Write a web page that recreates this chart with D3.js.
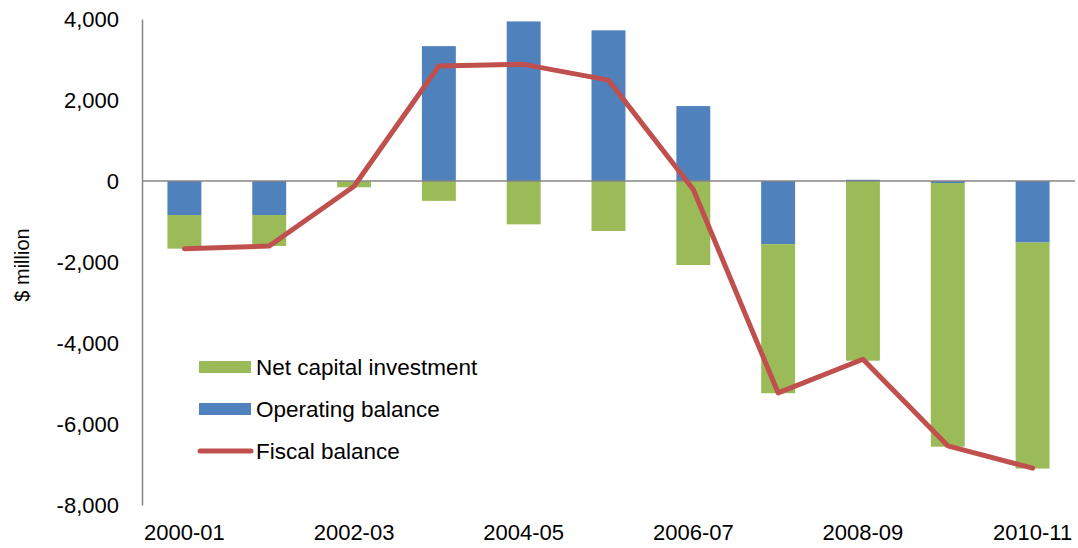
<!DOCTYPE html>
<html>
<head>
<meta charset="utf-8">
<script src="https://cdn.jsdelivr.net/npm/d3@7"></script>
<style>
  body { margin: 0; background: #fff; }
  svg text { font-family: "Liberation Sans", Arial, sans-serif; fill: #000; }
</style>
</head>
<body>
<svg id="chart" width="1078" height="548"></svg>
<script>
// chart data, $ million
var categories = ["2000-01","2001-02","2002-03","2003-04","2004-05","2005-06","2006-07","2007-08","2008-09","2009-10","2010-11"];
var operatingBalance = [-840, -840, -10, 3330, 3940, 3720, 1850, -1560, 30, -50, -1520];
var netCapital       = [-830, -765, -145, -490, -1070, -1235, -2074, -3680, -4437, -6510, -5580];
var fiscalBalance    = [-1670, -1605, -130, 2840, 2880, 2490, -210, -5230, -4400, -6540, -7090];
var yTicks  = [-8000, -6000, -4000, -2000, 0, 2000, 4000];
var xLabels = ["2000-01","2002-03","2004-05","2006-07","2008-09","2010-11"];

var colours = { op: "#4F81BD", cap: "#9BBB59", fiscal: "#C0504D", axis: "#868686" };

var svg = d3.select("#chart");
var plotLeft = 142, plotRight = 1075, plotTop = 19, plotBottom = 505;

var x = d3.scaleBand().domain(categories).range([plotLeft, plotRight]).paddingInner(0.6).paddingOuter(0.3);
var y = d3.scaleLinear().domain([-8000, 4000]).range([plotBottom, plotTop]);

// stacked bars: operating balance first, net capital investment on top of it
var rows = categories.map(function (c, i) { return { cat: c, op: operatingBalance[i], cap: netCapital[i] }; });
var stack = d3.stack().keys(["op", "cap"]).offset(d3.stackOffsetDiverging);
var layers = stack(rows);

svg.append("g").selectAll("g")
    .data(layers)
  .enter().append("g")
    .attr("fill", function (d) { return colours[d.key]; })
  .selectAll("rect")
    .data(function (d) { return d; })
  .enter().append("rect")
    .attr("x", function (d) { return x(d.data.cat); })
    .attr("width", x.bandwidth())
    .attr("y", function (d) { return y(Math.max(d[0], d[1])); })
    .attr("height", function (d) { return Math.abs(y(d[0]) - y(d[1])); });

// zero line
svg.append("line")
    .attr("x1", plotLeft).attr("x2", plotRight)
    .attr("y1", y(0)).attr("y2", y(0))
    .attr("stroke", colours.axis).attr("stroke-width", 1.5);

// y axis, plain hyphen for negatives like the original
var fmt = d3.format(",");
var yAxis = svg.append("g")
    .attr("transform", "translate(" + plotLeft + ",0)")
    .call(d3.axisLeft(y).tickValues(yTicks)
      .tickFormat(function (d) { return fmt(d).replace("\u2212", "-"); })
      .tickSize(0).tickPadding(23));
yAxis.select(".domain").attr("stroke", colours.axis).attr("stroke-width", 1.5);
yAxis.selectAll("text").attr("font-size", "22px").style("font-family", "'Liberation Sans', Arial, sans-serif").attr("fill", "#000");

// x axis labels (every second year)
var xAxis = svg.append("g")
    .attr("transform", "translate(0," + plotBottom + ")")
    .call(d3.axisBottom(x).tickValues(xLabels).tickSize(0).tickPadding(19));
xAxis.select(".domain").remove();
xAxis.selectAll("text").attr("font-size", "22px").style("font-family", "'Liberation Sans', Arial, sans-serif").attr("fill", "#000");

// fiscal balance line
var line = d3.line()
    .x(function (d, i) { return x(categories[i]) + x.bandwidth() / 2; })
    .y(function (d) { return y(d); });

svg.append("path")
    .datum(fiscalBalance)
    .attr("d", line)
    .attr("fill", "none")
    .attr("stroke", colours.fiscal)
    .attr("stroke-width", 5)
    .attr("stroke-linejoin", "round")
    .attr("stroke-linecap", "round");

// y axis title
svg.append("text")
    .attr("transform", "translate(29,265) rotate(-90)")
    .attr("text-anchor", "middle")
    .attr("font-size", "20px")
    .text("$ million");

// legend
var legendItems = [
  { label: "Net capital investment", type: "rect", colour: colours.cap },
  { label: "Operating balance",      type: "rect", colour: colours.op },
  { label: "Fiscal balance",         type: "line", colour: colours.fiscal }
];
var legend = svg.append("g").selectAll("g")
    .data(legendItems)
  .enter().append("g")
    .attr("transform", function (d, i) { return "translate(199," + (367 + i * 42) + ")"; });

legend.filter(function (d) { return d.type === "rect"; })
  .append("rect")
    .attr("x", 0).attr("y", -6).attr("width", 52).attr("height", 12)
    .attr("fill", function (d) { return d.colour; });

legend.filter(function (d) { return d.type === "line"; })
  .append("line")
    .attr("x1", 1).attr("x2", 52).attr("y1", 0).attr("y2", 0)
    .attr("stroke", function (d) { return d.colour; })
    .attr("stroke-width", 5).attr("stroke-linecap", "round");

legend.append("text")
    .attr("x", 57).attr("dy", "0.35em")
    .attr("font-size", "22.5px")
    .text(function (d) { return d.label; });
</script>
</body>
</html>
